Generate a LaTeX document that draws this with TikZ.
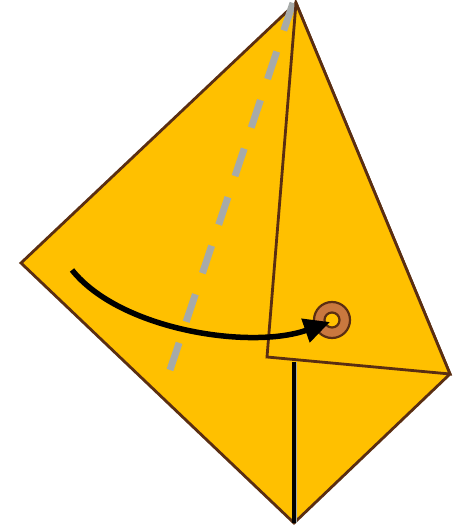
\documentclass[tikz,border=0pt]{standalone}
\usetikzlibrary{arrows.meta}
\definecolor{paper}{HTML}{FFC000}
\definecolor{edge}{HTML}{5A2E12}
\definecolor{foldgray}{HTML}{A6AAA9}
\definecolor{ringfill}{HTML}{C9783F}
\tikzset{
  paperside/.style={fill=paper, draw=edge, line width=2.8pt, line join=miter},
  foldline/.style={draw=foldgray, line width=7pt, dash pattern=on 29pt off 22.2pt},
  movearrow/.style={draw=black, line width=5.5pt, -{Triangle[length=26pt,width=24pt]}},
  ring/.style={fill=ringfill, draw=edge, line width=2.2pt, even odd rule}
}
\begin{document}
\begin{tikzpicture}[x=1pt,y=-1pt]
\useasboundingbox (0,0) rectangle (459,526);
\coordinate (T) at (296,3);
\coordinate (R) at (450,374);
\coordinate (B) at (294,523);
\coordinate (L) at (21,263);
\coordinate (C) at (267,357);
\coordinate (V) at (294,362);
\coordinate (D1) at (293,3);
\coordinate (D2) at (170,370);
\coordinate (A1) at (72,270);
\coordinate (A2) at (330,322);
\coordinate (O) at (332,320);
\path[paperside] (T) -- (R) -- (B) -- (L) -- cycle;
\path[foldline] (D1) -- (D2);
\path[paperside] (T) -- (C) -- (R) -- cycle;
\draw[foldgray, line width=5pt] (V) -- (B);
\draw[black, line width=3.2pt] (V) -- (B);
\path[ring] (O) circle[radius=18] (O) circle[radius=7.5];
\path[movearrow] (A1) .. controls (120,330) and (250,350) .. (A2);
\end{tikzpicture}
\end{document}
